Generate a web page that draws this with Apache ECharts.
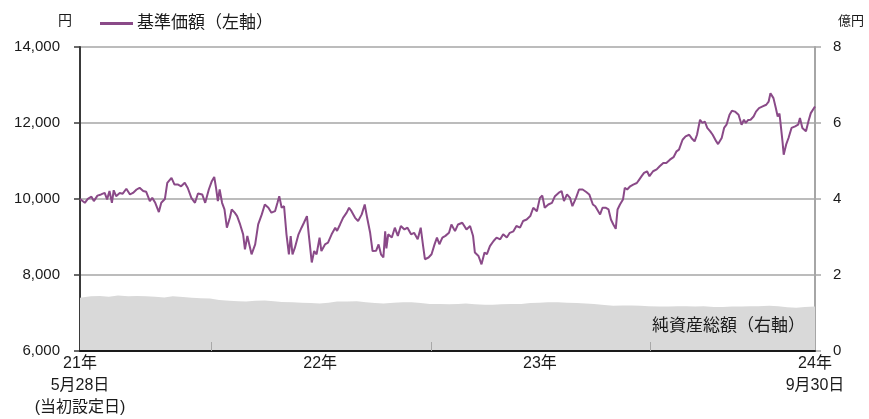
<!DOCTYPE html>
<html>
<head>
<meta charset="utf-8">
<script src="https://cdn.jsdelivr.net/npm/echarts@6/dist/echarts.min.js"></script>
<style>
html,body{margin:0;padding:0;background:#fff;}
#chart{width:869px;height:419px;}
</style>
</head>
<body>
<div id="chart"></div>
<script>
// ---- Data ----
const navDates = [
'2021-05-28','2021-06-05','2021-06-10','2021-06-16','2021-06-20','2021-06-26','2021-07-02','2021-07-08','2021-07-12','2021-07-16',
'2021-07-20','2021-07-23','2021-07-27','2021-08-02','2021-08-07','2021-08-13','2021-08-19','2021-08-24','2021-08-30','2021-09-04',
'2021-09-10','2021-09-15','2021-09-21','2021-09-25','2021-09-30','2021-10-06','2021-10-10','2021-10-16','2021-10-20','2021-10-27',
'2021-11-01','2021-11-07','2021-11-12','2021-11-18','2021-11-23','2021-11-29','2021-12-05','2021-12-10','2021-12-17','2021-12-22',
'2021-12-28','2022-01-02','2022-01-06','2022-01-09','2022-01-12','2022-01-15','2022-01-19','2022-01-23','2022-01-27','2022-02-01',
'2022-02-04','2022-02-09','2022-02-13','2022-02-18','2022-02-23','2022-02-26','2022-03-02','2022-03-05','2022-03-09','2022-03-15',
'2022-03-20','2022-03-26','2022-03-31','2022-04-06','2022-04-11','2022-04-17','2022-04-21','2022-04-24','2022-04-28','2022-05-02',
'2022-05-06','2022-05-10','2022-05-13','2022-05-16','2022-05-20','2022-05-26','2022-05-31','2022-06-04','2022-06-09','2022-06-12',
'2022-06-17','2022-06-21','2022-06-25','2022-06-30','2022-07-03','2022-07-09','2022-07-14','2022-07-20','2022-07-26','2022-07-29',
'2022-08-03','2022-08-08','2022-08-14','2022-08-18','2022-08-22','2022-08-28','2022-09-02','2022-09-08','2022-09-13','2022-09-17',
'2022-09-22','2022-09-26','2022-10-02','2022-10-06','2022-10-10','2022-10-14','2022-10-17','2022-10-19','2022-10-22','2022-10-28',
'2022-11-02','2022-11-07','2022-11-12','2022-11-18','2022-11-23','2022-11-29','2022-12-04','2022-12-10','2022-12-15','2022-12-19',
'2022-12-22','2022-12-28','2023-01-02','2023-01-07','2023-01-11','2023-01-15','2023-01-20','2023-01-25','2023-01-31','2023-02-04',
'2023-02-10','2023-02-15','2023-02-22','2023-03-01','2023-03-07','2023-03-12','2023-03-15','2023-03-21','2023-03-26','2023-03-31',
'2023-04-04','2023-04-09','2023-04-15','2023-04-20','2023-04-26','2023-05-01','2023-05-07','2023-05-12','2023-05-18','2023-05-23',
'2023-05-29','2023-06-03','2023-06-09','2023-06-15','2023-06-20','2023-06-26','2023-07-01','2023-07-05','2023-07-09','2023-07-15',
'2023-07-21','2023-07-26','2023-08-01','2023-08-06','2023-08-10','2023-08-15','2023-08-20','2023-08-24','2023-08-30','2023-09-04',
'2023-09-10','2023-09-16','2023-09-21','2023-09-27','2023-10-01','2023-10-04','2023-10-09','2023-10-13','2023-10-18','2023-10-23',
'2023-10-27','2023-10-31','2023-11-04','2023-11-07','2023-11-11','2023-11-16','2023-11-19','2023-11-23','2023-11-28','2023-12-03',
'2023-12-09','2023-12-13','2023-12-17','2023-12-21','2023-12-26','2023-12-30','2024-01-05','2024-01-11','2024-01-16','2024-01-22',
'2024-01-27','2024-02-02','2024-02-08','2024-02-13','2024-02-17','2024-02-23','2024-02-28','2024-03-05','2024-03-09','2024-03-14',
'2024-03-18','2024-03-23','2024-03-27','2024-03-31','2024-04-04','2024-04-09','2024-04-13','2024-04-19','2024-04-22','2024-04-28',
'2024-05-02','2024-05-06','2024-05-11','2024-05-15','2024-05-20','2024-05-26','2024-05-31','2024-06-04','2024-06-07','2024-06-11',
'2024-06-15','2024-06-20','2024-06-24','2024-06-29','2024-07-05','2024-07-11','2024-07-15','2024-07-18','2024-07-23','2024-07-27',
'2024-07-30','2024-08-02','2024-08-04','2024-08-07','2024-08-09','2024-08-13','2024-08-17','2024-08-22','2024-08-28','2024-09-02',
'2024-09-05','2024-09-09','2024-09-15','2024-09-19','2024-09-23','2024-09-26','2024-09-30'
];
const navValues = [
10000,9900,10005,10060,9945,10090,10120,10160,9990,10210,
9900,10230,10075,10160,10140,10270,10120,10160,10250,10295,
10210,10190,9945,10030,9900,9655,9900,10000,10425,10555,
10380,10380,10335,10425,10290,10030,9900,10145,10120,9900,
10250,10470,10580,10295,9945,10250,9900,9725,9245,9505,
9725,9640,9550,9330,9070,8675,9025,8990,8545,8805,
9330,9595,9855,9770,9640,9680,9900,10075,9770,9810,
9070,8545,9025,8545,8720,9070,9245,9375,9550,9070,
8330,8630,8545,8985,8630,8805,8850,9070,9245,9160,
9330,9505,9640,9770,9680,9505,9420,9595,9855,9505,
9110,8630,8640,8805,8545,8460,9150,8700,9070,8985,
9245,9030,9290,9200,9245,9070,9110,8940,9245,8760,
8415,8460,8545,8805,8985,8810,8985,9030,9110,9330,
9155,9330,9375,9200,9290,9025,8590,8500,8280,8590,
8550,8760,8895,8985,8940,9070,8985,9110,9150,9290,
9245,9420,9460,9550,9770,9680,10030,10090,9770,9855,
9900,10075,10160,10210,9945,10120,10030,9810,10030,10250,
10250,10185,10120,9855,9810,9855,9595,9770,9770,9725,
9460,9330,9215,9725,9855,9985,10295,10250,10335,10380,
10420,10510,10600,10685,10730,10600,10730,10780,10860,10950,
10950,11035,11100,11255,11300,11560,11650,11690,11600,11515,
11690,12085,12000,12040,11870,11780,11690,11515,11445,11605,
11870,11955,12215,12320,12300,12215,11955,12085,12000,12080,
12085,12170,12300,12390,12435,12480,12565,12785,12655,12390,
12170,12250,11955,11515,11165,11430,11605,11870,11910,11955,
12130,11870,11780,12040,12260,12300,12435
];
const assetDates = [
'2021-05-28','2021-06-15','2021-06-30','2021-07-15','2021-07-30','2021-08-16','2021-08-31','2021-09-15','2021-09-30','2021-10-15',
'2021-10-29','2021-11-15','2021-11-30','2021-12-15','2021-12-30','2022-01-14','2022-01-31','2022-02-15','2022-02-28','2022-03-15',
'2022-03-31','2022-04-15','2022-04-28','2022-05-16','2022-05-31','2022-06-15','2022-06-30','2022-07-15','2022-07-29','2022-08-15',
'2022-08-31','2022-09-15','2022-09-30','2022-10-14','2022-10-31','2022-11-15','2022-11-30','2022-12-15','2022-12-30','2023-01-16',
'2023-01-31','2023-02-15','2023-02-28','2023-03-15','2023-03-31','2023-04-14','2023-04-28','2023-05-15','2023-05-31','2023-06-15',
'2023-06-30','2023-07-14','2023-07-31','2023-08-15','2023-08-31','2023-09-15','2023-09-29','2023-10-16','2023-10-31','2023-11-15',
'2023-11-30','2023-12-15','2023-12-29','2024-01-15','2024-01-31','2024-02-15','2024-02-29','2024-03-15','2024-03-29','2024-04-15',
'2024-04-30','2024-05-15','2024-05-31','2024-06-14','2024-06-28','2024-07-16','2024-07-31','2024-08-15','2024-08-30','2024-09-13',
'2024-09-30'
];
const assetValues = [
1.40,1.44,1.45,1.43,1.46,1.44,1.45,1.44,1.43,1.41,
1.44,1.42,1.40,1.39,1.38,1.34,1.32,1.31,1.30,1.32,
1.33,1.31,1.29,1.28,1.27,1.26,1.25,1.27,1.30,1.30,
1.31,1.28,1.26,1.25,1.27,1.28,1.28,1.26,1.24,1.24,
1.23,1.24,1.25,1.23,1.22,1.22,1.23,1.24,1.24,1.26,
1.27,1.28,1.28,1.27,1.26,1.25,1.24,1.21,1.19,1.20,
1.20,1.19,1.18,1.17,1.17,1.18,1.18,1.17,1.18,1.16,
1.16,1.17,1.17,1.18,1.18,1.19,1.18,1.15,1.14,1.16,
1.17
];
const xLabelDates = ['2021-05-28','2022-07-01','2023-07-01','2024-09-30'];
const xLabelTexts = ['21年\n5月28日\n(当初設定日)','22年','23年','24年\n9月30日'];
const xTickDates = ['2022-01-01','2023-01-01','2024-01-01'];

// ---- helpers ----
function ts(s){const p=s.split('-').map(Number);return Date.UTC(p[0],p[1]-1,p[2]);}
const navData = navDates.map((d,i)=>[ts(d),navValues[i]]);
const assetData = assetDates.map((d,i)=>[ts(d),assetValues[i]]);
const labelTs = xLabelDates.map(ts);
const FONT = '"Liberation Sans", Arial, "Noto Sans CJK JP", sans-serif';
const TXT = '#1a1a1a';
const PURPLE = '#8a4a88';

const chart = echarts.init(document.getElementById('chart'), null, {renderer:'canvas'});
chart.setOption({
  animation:false,
  backgroundColor:'#fff',
  textStyle:{fontFamily:FONT,color:TXT},
  grid:{left:80,right:54,top:47,bottom:67,containLabel:false},
  legend:{
    left:95, top:10, itemWidth:33, itemHeight:3, itemGap:4,
    data:[{name:'基準価額（左軸）', icon:'rect', itemStyle:{color:PURPLE}}],
    textStyle:{fontSize:17,color:TXT,fontFamily:FONT,padding:[0,0,0,-1]}
  },
  xAxis:{
    type:'value', z:5,
    min:ts('2021-05-28'), max:ts('2024-09-30'),
    axisLine:{show:true,lineStyle:{color:'#1a1a1a',width:2}},
    axisTick:{show:true,inside:true,length:9,lineStyle:{color:'#a8a8a8',width:1},customValues:xTickDates.map(ts)},
    splitLine:{show:false},
    axisLabel:{
      customValues:labelTs,
      margin:2, fontSize:16, lineHeight:22, color:TXT, fontFamily:FONT, align:'center',
      formatter:function(v){const i=labelTs.indexOf(v);return i>=0?xLabelTexts[i]:'';}
    }
  },
  yAxis:[{
    type:'value', min:6000, max:14000, interval:2000, position:'left',
    name:'円', nameLocation:'end', nameGap:26,
    nameTextStyle:{fontSize:14,color:TXT,fontFamily:FONT,align:'right',verticalAlign:'middle',padding:[0,8,0,0]},
    axisLine:{show:true,lineStyle:{color:'#3a3a3a',width:2}},
    axisTick:{show:true,length:6,lineStyle:{color:'#3a3a3a',width:1.5}},
    axisLabel:{margin:20,fontSize:15,color:TXT,fontFamily:FONT,
      formatter:function(v){return v.toLocaleString('en-US');}},
    splitLine:{show:true,lineStyle:{color:'#a6a6a6',width:1.5}}
  },{
    type:'value', min:0, max:8, interval:2, position:'right',
    name:'億円', nameLocation:'end', nameGap:26,
    nameTextStyle:{fontSize:13,color:TXT,fontFamily:FONT,align:'left',verticalAlign:'middle',padding:[0,0,0,23]},
    axisLine:{show:true,lineStyle:{color:'#a6a6a6',width:2}},
    axisTick:{show:true,length:6,lineStyle:{color:'#a6a6a6',width:1.5}},
    axisLabel:{margin:18,fontSize:15,color:TXT,fontFamily:FONT},
    splitLine:{show:false}
  }],
  graphic:[{
    type:'text', left:652, top:318, z:10,
    style:{text:'純資産総額（右軸）',fontSize:17,fill:TXT,fontFamily:FONT}
  }],
  series:[{
    name:'純資産総額（右軸）', type:'line', yAxisIndex:1, data:assetData,
    symbol:'none', lineStyle:{width:0}, areaStyle:{color:'#d9d9d9',opacity:1}, z:1, silent:true
  },{
    name:'基準価額（左軸）', type:'line', yAxisIndex:0, data:navData,
    symbol:'none', lineStyle:{color:PURPLE,width:2}, itemStyle:{color:PURPLE}, z:3
  }]
});
</script>
</body>
</html>
